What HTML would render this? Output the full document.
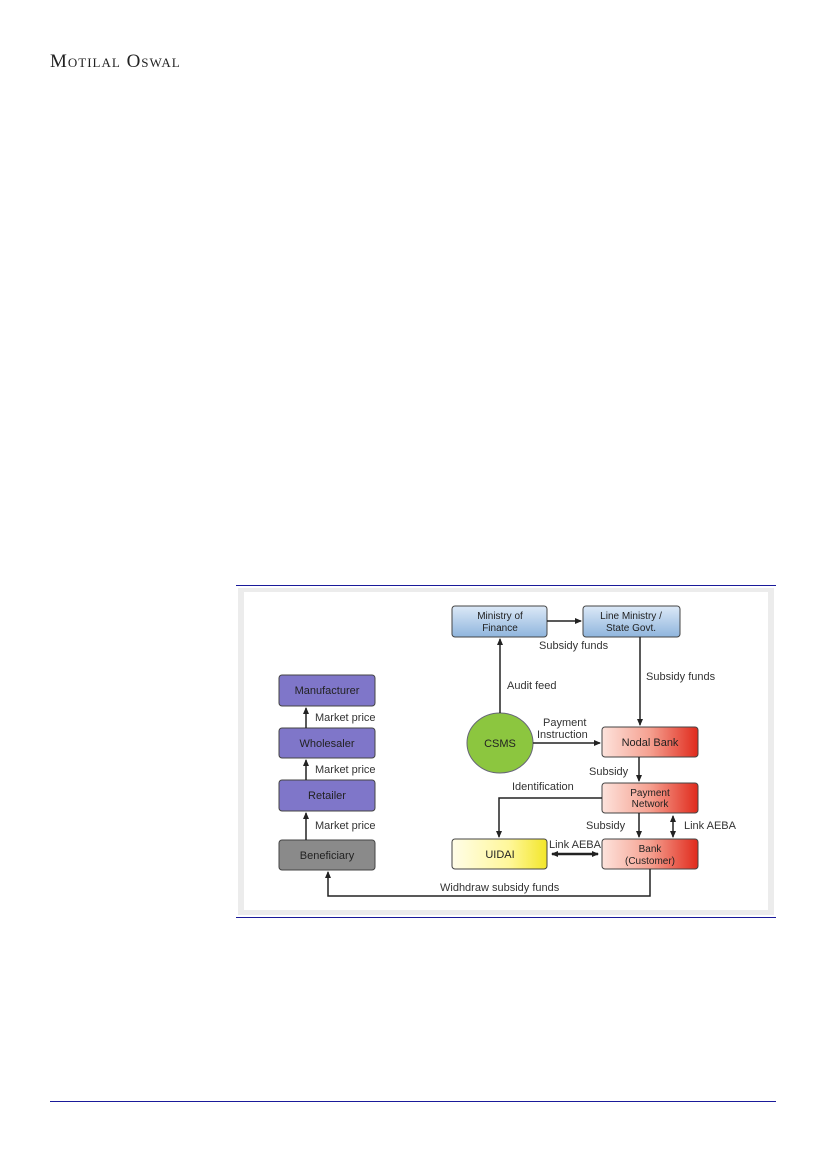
<!DOCTYPE html>
<html><head><meta charset="utf-8"><style>
body{margin:0;background:#fff;width:826px;height:1169px;overflow:hidden;position:relative;font-family:"Liberation Sans",sans-serif}
.logo{position:absolute;left:50px;top:51px;font-family:"Liberation Serif",serif;font-size:19px;color:#222;letter-spacing:1px;font-variant:small-caps}
</style></head><body>
<div class="logo">Motilal Oswal</div>
<svg width="826" height="1169" style="position:absolute;left:0;top:0" font-family="Liberation Sans, sans-serif">
<defs>
<marker id="a" markerUnits="userSpaceOnUse" markerWidth="7" markerHeight="7" refX="6" refY="3.5" orient="auto"><path d="M0,0.5L7,3.5L0,6.5z" fill="#222"/></marker>
<marker id="b" markerUnits="userSpaceOnUse" markerWidth="7" markerHeight="7" refX="1" refY="3.5" orient="auto"><path d="M7,0.5L0,3.5L7,6.5z" fill="#222"/></marker>
<linearGradient id="blue" x1="0" y1="0" x2="0" y2="1"><stop offset="0" stop-color="#dce9f7"/><stop offset="1" stop-color="#8fb5dd"/></linearGradient>
<linearGradient id="red" x1="0" y1="0" x2="1" y2="0"><stop offset="0" stop-color="#fde3dc"/><stop offset="0.5" stop-color="#f5a090"/><stop offset="1" stop-color="#e02a1c"/></linearGradient>
<linearGradient id="yel" x1="0" y1="0" x2="1" y2="0"><stop offset="0" stop-color="#fffde8"/><stop offset="0.6" stop-color="#fff79a"/><stop offset="1" stop-color="#f2e62a"/></linearGradient>
</defs>
<line x1="236" y1="585.5" x2="776" y2="585.5" stroke="#1a1a9a" stroke-width="1"/>
<line x1="236" y1="917.5" x2="776" y2="917.5" stroke="#1a1a9a" stroke-width="1"/>
<rect x="238" y="588" width="536" height="327" fill="#ececec"/>
<rect x="244" y="592" width="524" height="318" fill="#fff"/>
<line x1="50" y1="1101.5" x2="776" y2="1101.5" stroke="#1a1a9a" stroke-width="1"/>
<g stroke="#444" stroke-width="1">
<rect x="279" y="675" width="96" height="31" rx="3" fill="#7f76c9"/>
<rect x="279" y="728" width="96" height="30" rx="3" fill="#7f76c9"/>
<rect x="279" y="780" width="96" height="31" rx="3" fill="#7f76c9"/>
<rect x="279" y="840" width="96" height="30" rx="3" fill="#8a8a8a"/>
<rect x="452" y="606" width="95" height="31" rx="3" fill="url(#blue)"/>
<rect x="583" y="606" width="97" height="31" rx="3" fill="url(#blue)"/>
<rect x="602" y="727" width="96" height="30" rx="3" fill="url(#red)"/>
<rect x="602" y="783" width="96" height="30" rx="3" fill="url(#red)"/>
<rect x="602" y="839" width="96" height="30" rx="3" fill="url(#red)"/>
<rect x="452" y="839" width="95" height="30" rx="3" fill="url(#yel)"/>
<ellipse cx="500" cy="743" rx="33" ry="30" fill="#8cc63f" stroke="#667"/>
</g>
<g stroke="#222" stroke-width="1.5" fill="none">
<line x1="306" y1="728" x2="306" y2="708" marker-end="url(#a)"/>
<line x1="306" y1="780" x2="306" y2="760" marker-end="url(#a)"/>
<line x1="306" y1="840" x2="306" y2="813" marker-end="url(#a)"/>
<line x1="547" y1="621" x2="581" y2="621" marker-end="url(#a)"/>
<line x1="640" y1="637" x2="640" y2="725" marker-end="url(#a)"/>
<line x1="500" y1="713" x2="500" y2="639" marker-end="url(#a)"/>
<line x1="533" y1="743" x2="600" y2="743" marker-end="url(#a)"/>
<line x1="639" y1="757" x2="639" y2="781" marker-end="url(#a)"/>
<polyline points="602,798 499,798 499,837" marker-end="url(#a)"/>
<line x1="639" y1="813" x2="639" y2="837" marker-end="url(#a)"/>
<line x1="673" y1="816" x2="673" y2="837" marker-start="url(#b)" marker-end="url(#a)"/>
<line x1="552" y1="854" x2="598" y2="854" stroke-width="2.5" marker-start="url(#b)" marker-end="url(#a)"/>
<polyline points="650,869 650,896 328,896 328,872" marker-end="url(#a)"/>
</g>
<g font-size="11" fill="#222" text-anchor="middle">
<text x="327" y="694">Manufacturer</text>
<text x="327" y="747">Wholesaler</text>
<text x="327" y="799">Retailer</text>
<text x="327" y="859">Beneficiary</text>
<text x="500" y="619" font-size="10">Ministry of</text><text x="500" y="631" font-size="10">Finance</text>
<text x="631" y="619" font-size="10">Line Ministry /</text><text x="631" y="631" font-size="10">State Govt.</text>
<text x="650" y="746">Nodal Bank</text>
<text x="650" y="796" font-size="10">Payment</text><text x="650" y="807" font-size="10">Network</text>
<text x="650" y="852" font-size="10">Bank</text><text x="650" y="864" font-size="10">(Customer)</text>
<text x="500" y="858">UIDAI</text>
<text x="500" y="747">CSMS</text>
</g>
<g font-size="11" fill="#333">
<text x="315" y="721">Market price</text>
<text x="315" y="773">Market price</text>
<text x="315" y="829">Market price</text>
<text x="539" y="649">Subsidy funds</text>
<text x="646" y="680">Subsidy funds</text>
<text x="507" y="689">Audit feed</text>
<text x="543" y="726">Payment</text>
<text x="537" y="738">Instruction</text>
<text x="589" y="775">Subsidy</text>
<text x="512" y="790">Identification</text>
<text x="586" y="829">Subsidy</text>
<text x="684" y="829">Link AEBA</text>
<text x="549" y="848">Link AEBA</text>
<text x="440" y="891">Widhdraw subsidy funds</text>
</g>
</svg>
</body></html>
